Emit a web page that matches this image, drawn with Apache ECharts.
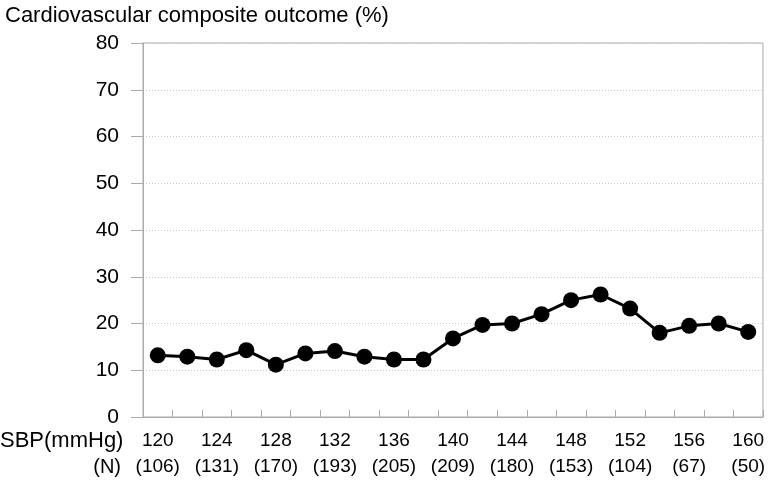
<!DOCTYPE html>
<html><head><meta charset="utf-8">
<script src="https://cdn.jsdelivr.net/npm/echarts@6/dist/echarts.min.js"></script>
<style>html,body{margin:0;padding:0;background:#fff}#c{width:768px;height:480px}</style>
</head><body><div id="c"></div>
<script>
var sbp = ['120','122','124','126','128','130','132','134','136','138','140','142','144','146','148','150','152','154','156','158','160'];
var counts = ['106','','131','','170','','193','','205','','209','','180','','153','','104','','67','','50'];
var outcome = [13.2,12.9,12.3,14.3,11.2,13.6,14.1,12.9,12.3,12.3,16.8,19.7,20.0,22.0,25.0,26.2,23.2,18.0,19.5,20.0,18.2];
var yTicks = [0,10,20,30,40,50,60,70,80];

var font = 'Liberation Sans, Arial, sans-serif';
var chart = echarts.init(document.getElementById('c'));
chart.setOption({
  animation: false,
  backgroundColor: '#fff',
  textStyle: {fontFamily: font},
  title: {text: 'Cardiovascular composite outcome (%)', left: 0, top: 0,
    textStyle: {fontFamily: font, fontSize: 22, fontWeight: 'normal', color: '#000'}},
  grid: {left: 143, right: 1, top: 43, bottom: 62, show: true, borderColor: '#aaa', borderWidth: 1},
  xAxis: {
    type: 'category', data: sbp, boundaryGap: true,
    axisLine: {lineStyle: {color: '#aaa', width: 1}},
    axisTick: {show: true, inside: true, length: 7, interval: 0, lineStyle: {color: '#aaa'}},
    axisLabel: {
      interval: 0, color: '#000', fontSize: 19, fontFamily: font, lineHeight: 26, margin: 11,
      formatter: function (v, i) { return i % 2 === 0 ? v + '\n(' + counts[i] + ')' : ''; }
    }
  },
  yAxis: {
    type: 'value', min: yTicks[0], max: yTicks[yTicks.length - 1], interval: 10,
    axisLine: {show: true, lineStyle: {color: '#aaa'}},
    axisTick: {show: true, length: 12, lineStyle: {color: '#aaa'}},
    axisLabel: {color: '#000', fontSize: 21, fontFamily: font, margin: 24},
    splitLine: {show: true, lineStyle: {color: '#c8c8c8', type: [1, 2], width: 1}}
  },
  graphic: [
    {type: 'text', x: 0, y: 441, style: {text: 'SBP(mmHg)', font: '22px ' + font, fill: '#000', textVerticalAlign: 'middle'}},
    {type: 'text', x: 121, y: 467, style: {text: '(N)', font: '20px ' + font, fill: '#000', textAlign: 'right', textVerticalAlign: 'middle'}}
  ],
  series: [{
    type: 'line', data: outcome, symbol: 'circle', symbolSize: 16,
    lineStyle: {color: '#000', width: 3}, itemStyle: {color: '#000'}
  }]
});
</script></body></html>
